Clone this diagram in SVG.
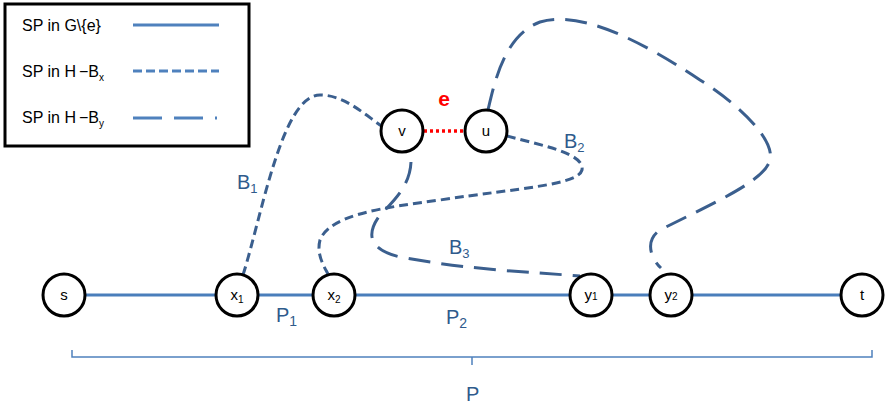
<svg xmlns="http://www.w3.org/2000/svg" width="888" height="406" viewBox="0 0 888 406">
<style>
.node circle{fill:#fff;stroke:#000;stroke-width:3}
.nl{font-family:"Liberation Sans",Arial,sans-serif;font-size:15px;fill:#000;text-anchor:middle}
.lbl{font-family:"Liberation Sans",Arial,sans-serif;font-size:20px;fill:#2f5b8c}
.leg{font-family:"Liberation Sans",Arial,sans-serif;font-size:16px;fill:#000}
.solid{stroke:#4a7ebb;stroke-width:3;fill:none}
.sd{stroke:#3b5f8e;stroke-width:3;fill:none;stroke-dasharray:9 5}
.ld{stroke:#3b5f8e;stroke-width:3;fill:none;stroke-dasharray:22 11}
</style>
<rect width="888" height="406" fill="#fff"/>
<g id="legend">
<rect x="5" y="4" width="244" height="142" fill="#fff" stroke="#000" stroke-width="3"/>
<text class="leg" x="22" y="31">SP in G\{e}</text>
<line x1="133" y1="25" x2="219" y2="25" stroke="#4f81bd" stroke-width="3"/>
<text class="leg" x="22" y="77">SP in H<tspan dx="3">−</tspan>B<tspan font-size="10" dy="4">x</tspan></text>
<line x1="133" y1="71" x2="219" y2="71" stroke="#4f81bd" stroke-width="3" stroke-dasharray="9 4"/>
<text class="leg" x="22" y="123">SP in H<tspan dx="3">−</tspan>B<tspan font-size="10" dy="4">y</tspan></text>
<line x1="133" y1="118" x2="219" y2="118" stroke="#4f81bd" stroke-width="3" stroke-dasharray="29 12 29 12 2 10"/>
</g>
<g id="connectors">
<line class="solid" x1="64" y1="295" x2="862" y2="295"/>
<line x1="424" y1="131" x2="465" y2="131" stroke="#ff0000" stroke-width="3.5" stroke-dasharray="3 3"/>
<path class="sd" d="M 243 275 C 262 215, 282 95, 320 95 C 345 95, 365 115, 383 127"/>
<path class="sd" d="M 507 136 C 540 145, 585 153, 582 170 C 578 185, 520 188, 440 200 C 380 208, 330 215, 320 240 C 316 255, 325 268, 328 274"/>
<path class="ld" d="M 411 162 C 410 185, 395 200, 380 215 C 365 235, 370 250, 400 257 C 470 270, 530 272, 580 276"/>
<path class="ld" d="M 488 110 C 495 80, 505 35, 540 22 C 580 10, 640 40, 700 80 C 740 105, 775 140, 770 160 C 765 180, 720 200, 660 230 C 645 240, 650 258, 661 268"/>
<path d="M 72 350 L 72 357 L 872 357 L 872 350 M 472 357 L 472 365" stroke="#4f81bd" stroke-width="1.5" fill="none"/>
</g>
<g id="node-s" class="node"><circle cx="64" cy="295" r="21"/><text class="nl" x="64" y="300">s</text></g>
<g id="node-x1" class="node"><circle cx="237" cy="295" r="21"/><text class="nl" x="237" y="300">x<tspan font-size="10" dy="3">1</tspan></text></g>
<g id="node-x2" class="node"><circle cx="334" cy="295" r="21"/><text class="nl" x="334" y="300">x<tspan font-size="10" dy="3">2</tspan></text></g>
<g id="node-y1" class="node"><circle cx="591" cy="295" r="21"/><text class="nl" x="591" y="300">y<tspan font-size="10">1</tspan></text></g>
<g id="node-y2" class="node"><circle cx="671" cy="295" r="21"/><text class="nl" x="671" y="300">y<tspan font-size="10">2</tspan></text></g>
<g id="node-t" class="node"><circle cx="862" cy="295" r="21"/><text class="nl" x="862" y="300">t</text></g>
<g id="node-v" class="node"><circle cx="402" cy="131" r="21"/><text class="nl" x="402" y="136">v</text></g>
<g id="node-u" class="node"><circle cx="486" cy="131" r="21"/><text class="nl" x="486" y="136">u</text></g>
<g id="labels">
<text x="444" y="106" font-family="Liberation Sans,Arial,sans-serif" font-size="21" font-weight="bold" fill="#ff0000" text-anchor="middle">e</text>
<text class="lbl" x="237" y="189">B<tspan font-size="13" dy="4">1</tspan></text>
<text class="lbl" x="564" y="148">B<tspan font-size="13" dy="4">2</tspan></text>
<text class="lbl" x="449" y="254">B<tspan font-size="13" dy="4">3</tspan></text>
<text class="lbl" x="276" y="322" font-size="22">P<tspan font-size="14" dy="4">1</tspan></text>
<text class="lbl" x="446" y="324" font-size="22">P<tspan font-size="14" dy="4">2</tspan></text>
<text class="lbl" x="466" y="401" font-size="22">P</text>
</g>
</svg>
